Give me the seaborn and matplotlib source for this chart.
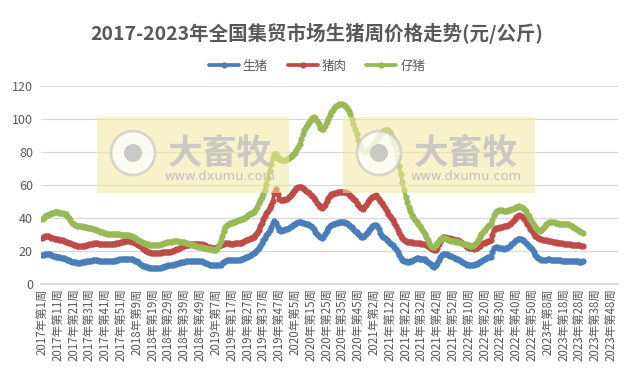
import seaborn as sns
import matplotlib.pyplot as plt
import matplotlib.patches as mpatches
import numpy as np
import pandas as pd

years = [2017, 2018, 2019, 2020, 2021, 2022, 2023]
weeks_in_year = [52, 52, 52, 53, 52, 52, 52]
series_names = ["生猪", "猪肉", "仔猪"]
colors = ["#4A7EBB", "#BE4B48", "#98B954"]

# 生猪 (live hog), weekly
hog_2017 = [17.6, 17.9, 18.2, 18.4, 18.3, 18.0, 17.6, 17.2, 16.9, 16.7,
            16.5, 16.3, 16.1, 15.9, 15.6, 15.3, 14.9, 14.5, 14.1, 13.7,
            13.4, 13.2, 13.1, 13.0, 13.1, 13.3, 13.5, 13.7, 13.9, 14.0,
            14.2, 14.3, 14.4, 14.5, 14.5, 14.4, 14.3, 14.2, 14.1, 14.0,
            13.9, 13.8, 13.8, 13.8, 13.9, 14.0, 14.2, 14.4, 14.7, 15.0, 15.2, 15.4]
hog_2018 = [15.4, 15.5, 15.5, 15.4, 15.2, 15.0, 14.7, 14.3, 13.8, 13.2,
            12.5, 11.8, 11.2, 10.8, 10.4, 10.1, 9.9, 9.8, 9.7, 9.6,
            9.6, 9.6, 9.8, 10.0, 10.3, 10.6, 10.9, 11.1, 11.3, 11.4,
            11.5, 11.7, 12.0, 12.3, 12.6, 12.9, 13.2, 13.4, 13.6, 13.8,
            13.9, 14.0, 14.0, 13.9, 13.9, 13.9, 13.8, 13.8, 13.9, 13.8, 13.5, 13.1]
hog_2019 = [12.6, 12.2, 11.8, 11.5, 11.4, 11.3, 11.3, 11.4, 11.5, 11.8,
            12.6, 13.5, 14.2, 14.5, 14.6, 14.5, 14.4, 14.4, 14.5, 14.6,
            14.7, 14.8, 15.0, 15.3, 15.7, 16.2, 16.6, 17.0, 17.5, 18.0,
            18.6, 19.5, 20.6, 21.8, 23.0, 24.8, 26.6, 28.2, 29.6, 31.0,
            32.6, 34.5, 37.0, 38.5, 37.0, 34.5, 32.6, 32.3, 32.5, 33.0, 33.3, 33.6]
hog_2020 = [34.0, 34.6, 35.3, 36.0, 36.6, 37.0, 37.3, 37.5, 37.4, 37.2,
            37.0, 36.6, 36.1, 35.6, 35.0, 34.4, 33.2, 31.8, 30.4, 29.2,
            28.3, 27.8, 28.6, 30.2, 32.0, 33.8, 35.0, 35.6, 36.1, 36.5,
            36.9, 37.2, 37.5, 37.6, 37.6, 37.5, 37.2, 36.7, 36.0, 35.3,
            34.6, 33.4, 32.3, 31.3, 30.4, 29.6, 28.8, 28.6, 29.4, 30.6, 31.8, 33.0, 34.2]
hog_2021 = [35.2, 35.8, 36.0, 35.0, 33.2, 31.0, 29.2, 28.6, 28.0, 27.0,
            26.0, 25.2, 24.3, 23.4, 22.5, 21.0, 19.3, 17.6, 16.0, 14.8,
            14.2, 13.8, 13.6, 13.5, 13.8, 14.3, 14.9, 15.3, 15.6, 15.6,
            15.5, 15.5, 15.5, 15.0, 14.2, 13.5, 12.8, 12.0, 11.2, 10.6,
            11.5, 13.0, 14.8, 16.5, 17.8, 18.5, 18.4, 18.0, 17.6, 17.2, 16.8, 16.6]
hog_2022 = [16.0, 15.5, 15.0, 14.5, 14.0, 13.4, 12.8, 12.3, 11.9, 11.6,
            11.5, 11.5, 11.7, 12.0, 12.5, 13.0, 13.6, 14.2, 14.8, 15.4,
            15.8, 16.2, 16.4, 16.5, 19.5, 22.0, 22.5, 22.3, 22.0, 21.8,
            21.6, 21.5, 21.6, 21.8, 22.4, 23.2, 24.0, 25.0, 26.0, 26.8,
            27.4, 27.6, 27.4, 26.8, 26.0, 25.2, 24.2, 23.2, 22.3, 21.0, 19.4, 17.8]
hog_2023 = [16.5, 15.6, 15.0, 14.6, 14.5, 14.6, 14.8, 15.0, 15.0, 14.9,
            14.8, 14.7, 14.6, 14.6, 14.5, 14.4, 14.3, 14.3, 14.2, 14.2,
            14.1, 14.1, 14.0, 13.9, 13.9, 13.8, 13.8, 13.7, 13.7, 13.8]

# 猪肉 (pork), weekly
pork_2017 = [28.2, 28.6, 29.0, 29.2, 29.0, 28.6, 28.2, 27.9, 27.6, 27.4,
             27.2, 27.0, 26.8, 26.5, 26.2, 25.8, 25.4, 25.0, 24.6, 24.2,
             23.8, 23.4, 23.1, 22.9, 22.8, 22.8, 23.0, 23.2, 23.5, 23.8,
             24.1, 24.3, 24.5, 24.6, 24.6, 24.6, 24.5, 24.4, 24.3, 24.2,
             24.1, 24.0, 24.0, 24.0, 24.1, 24.2, 24.4, 24.6, 24.9, 25.2, 25.5, 25.8]
pork_2018 = [26.0, 26.2, 26.2, 26.1, 26.0, 25.8, 25.5, 25.0, 24.4, 23.7,
             23.0, 22.2, 21.5, 20.8, 20.2, 19.6, 19.2, 19.0, 18.9, 18.8,
             18.8, 18.9, 19.0, 19.1, 19.2, 19.3, 19.4, 19.5, 19.6, 19.7,
             19.8, 20.1, 20.5, 21.0, 21.5, 22.0, 22.4, 22.8, 23.1, 23.4,
             23.6, 23.8, 24.0, 24.1, 24.2, 24.2, 24.2, 24.2, 24.2, 24.1, 23.8, 23.4]
pork_2019 = [23.0, 22.6, 22.3, 22.0, 21.8, 21.8, 22.0, 22.5, 23.2, 23.8,
             24.3, 24.5, 24.6, 24.6, 24.6, 24.5, 24.5, 24.5, 24.6, 24.6,
             24.7, 24.9, 25.2, 25.6, 26.1, 26.6, 27.0, 27.4, 27.8, 28.2,
             28.6, 29.6, 31.0, 33.0, 35.0, 37.2, 39.4, 41.2, 42.8, 44.5,
             46.2, 48.0, 50.5, 55.0, 57.5, 54.5, 51.8, 50.8, 50.6, 50.8, 51.2, 51.8]
pork_2020 = [52.5, 53.5, 54.8, 56.0, 57.2, 58.2, 58.8, 59.0, 58.8, 58.2,
             57.4, 56.6, 55.8, 55.0, 54.2, 53.2, 52.0, 50.6, 49.2, 47.8,
             46.8, 46.2, 46.6, 48.0, 50.0, 52.0, 53.6, 54.5, 54.8, 55.0,
             55.2, 55.5, 55.8, 56.0, 56.0, 55.8, 55.6, 55.2, 54.4, 53.6,
             52.8, 51.8, 50.6, 49.2, 47.8, 46.6, 45.8, 45.6, 46.4, 47.8, 49.4, 51.0, 52.4]
pork_2021 = [52.8, 53.6, 53.8, 53.0, 51.6, 50.0, 49.0, 47.8, 46.0, 44.2,
             42.6, 41.2, 40.0, 38.7, 37.0, 35.0, 33.0, 31.0, 29.2, 27.8,
             26.8, 26.0, 25.6, 25.4, 25.4, 25.3, 25.2, 25.0, 24.8, 24.6,
             24.6, 24.5, 24.3, 24.0, 23.5, 23.0, 22.4, 21.8, 21.2, 20.8,
             20.6, 22.0, 24.0, 26.0, 27.6, 28.6, 28.5, 28.2, 28.0, 27.8, 27.5, 27.2]
pork_2022 = [27.0, 26.8, 26.6, 26.2, 25.6, 24.8, 24.0, 23.2, 22.5, 22.0,
             21.8, 21.6, 21.5, 21.6, 22.0, 22.6, 23.3, 24.0, 24.6, 25.2,
             25.7, 26.1, 26.4, 26.6, 30.0, 33.0, 33.8, 34.0, 34.2, 34.5,
             34.8, 35.0, 35.2, 35.4, 35.6, 36.2, 37.0, 38.0, 39.2, 40.4,
             41.2, 41.7, 41.5, 40.6, 39.4, 38.0, 36.6, 35.0, 33.4, 32.0, 30.6, 29.4]
pork_2023 = [28.6, 28.0, 27.6, 27.3, 27.0, 26.8, 26.6, 26.4, 26.2, 26.0,
             25.8, 25.6, 25.4, 25.2, 25.0, 24.8, 24.6, 24.4, 24.3, 24.2,
             24.1, 24.0, 23.9, 23.8, 23.7, 23.6, 23.5, 23.4, 23.3, 23.3]

# 仔猪 (piglet), weekly
piglet_2017 = [39.2, 40.2, 41.0, 41.6, 42.0, 42.4, 42.8, 43.2, 43.4, 43.5,
               43.4, 43.2, 43.0, 42.8, 42.6, 42.2, 41.4, 40.0, 38.6, 37.2,
               36.2, 35.6, 35.4, 35.3, 35.2, 35.0, 34.8, 34.6, 34.4, 34.2,
               34.0, 33.8, 33.6, 33.4, 33.0, 32.6, 32.2, 31.8, 31.4, 31.0,
               30.8, 30.6, 30.5, 30.4, 30.4, 30.4, 30.4, 30.3, 30.2, 30.1, 30.0, 30.0]
piglet_2018 = [30.0, 29.9, 29.8, 29.6, 29.4, 29.0, 28.6, 28.0, 27.4, 26.8,
               26.2, 25.6, 25.1, 24.7, 24.4, 24.1, 23.9, 23.7, 23.6, 23.6,
               23.6, 23.7, 23.9, 24.1, 24.4, 24.7, 25.0, 25.3, 25.5, 25.6,
               25.8, 25.9, 26.0, 26.0, 25.9, 25.8, 25.6, 25.5, 25.3, 25.0,
               24.7, 24.4, 24.1, 23.8, 23.5, 23.2, 22.9, 22.6, 22.4, 22.2, 22.0, 21.8]
piglet_2019 = [21.6, 21.4, 21.2, 21.0, 20.8, 20.6, 20.8, 21.8, 23.6, 26.0,
               29.0, 32.0, 34.6, 35.8, 36.4, 36.8, 37.2, 37.5, 37.8, 38.2,
               38.6, 38.9, 39.2, 39.6, 40.0, 40.6, 41.4, 42.2, 42.8, 43.3,
               43.8, 45.0, 46.8, 49.0, 51.0, 52.6, 54.5, 57.0, 60.5, 64.5,
               68.5, 72.5, 76.0, 78.5, 79.0, 77.0, 75.5, 75.0, 74.8, 74.8, 75.0, 75.4]
piglet_2020 = [76.0, 76.8, 77.8, 78.8, 79.5, 81.0, 83.0, 85.0, 87.5, 90.5,
               93.0, 95.0, 96.6, 98.0, 99.2, 100.2, 101.0, 100.6, 98.8, 96.6,
               94.6, 93.6, 94.0, 95.6, 97.8, 100.0, 102.0, 103.8, 105.4, 106.8,
               107.8, 108.4, 108.8, 109.0, 109.0, 108.6, 107.8, 106.8, 105.0, 102.6,
               100.0, 97.0, 94.0, 90.5, 87.0, 84.0, 81.5, 80.4, 80.0, 80.2, 80.8, 81.6, 82.6]
piglet_2021 = [83.8, 85.2, 86.6, 88.0, 89.4, 90.6, 91.6, 92.4, 93.0, 93.2,
               93.0, 92.0, 90.2, 88.0, 85.0, 81.0, 76.5, 71.5, 66.5, 61.5,
               57.0, 53.0, 49.5, 46.5, 44.0, 42.0, 40.4, 39.0, 37.8, 36.6,
               35.4, 34.0, 32.4, 30.6, 28.6, 26.6, 24.8, 23.2, 22.4, 22.6,
               23.6, 25.0, 26.4, 27.4, 28.0, 28.2, 27.8, 27.4, 27.0, 26.6, 26.4, 26.2]
piglet_2022 = [26.0, 25.8, 25.6, 25.5, 25.2, 24.8, 24.4, 24.0, 23.7, 23.5,
               23.3, 23.2, 23.4, 24.2, 25.4, 27.0, 28.8, 30.4, 31.8, 33.0,
               34.0, 35.0, 35.8, 36.6, 39.0, 42.0, 43.6, 44.4, 44.8, 44.8,
               44.6, 44.4, 44.4, 44.4, 44.6, 44.8, 45.2, 45.6, 46.0, 46.4,
               46.8, 47.0, 46.8, 46.2, 45.2, 44.0, 42.6, 41.0, 39.4, 37.6, 36.0, 34.4]
piglet_2023 = [33.2, 32.6, 32.4, 32.8, 33.8, 35.0, 36.2, 37.0, 37.4, 37.6,
               37.6, 37.4, 37.0, 36.8, 36.6, 36.6, 36.6, 36.5, 36.4, 36.3,
               36.2, 36.0, 35.4, 34.6, 33.8, 33.2, 32.6, 32.0, 31.4, 31.0]

hog = hog_2017 + hog_2018 + hog_2019 + hog_2020 + hog_2021 + hog_2022 + hog_2023
pork = pork_2017 + pork_2018 + pork_2019 + pork_2020 + pork_2021 + pork_2022 + pork_2023
piglet = (piglet_2017 + piglet_2018 + piglet_2019 + piglet_2020
          + piglet_2021 + piglet_2022 + piglet_2023)

week_labels = [f"{y}年第{w}周" for y, n in zip(years, weeks_in_year) for w in range(1, n + 1)]
n_cat = len(week_labels)

frames = []
for name, vals in zip(series_names, [hog, pork, piglet]):
    frames.append(pd.DataFrame({"week": np.arange(len(vals)), "price": vals, "kind": name}))
df = pd.concat(frames, ignore_index=True)

sns.set_theme(style="white")
plt.rcParams["font.family"] = ["Noto Sans CJK SC", "DejaVu Sans"]

fig = plt.figure(figsize=(6.34, 3.71), dpi=100)
ax = fig.add_axes([0.065, 0.234, 0.91, 0.535])

sns.lineplot(data=df, x="week", y="price", hue="kind", palette=colors,
             marker="o", markersize=4.5, markeredgewidth=0, linewidth=2.7,
             ax=ax, legend=False)

ax.set_xlim(-0.5, n_cat - 0.5)
ax.set_ylim(0, 120)
ax.set_yticks(range(0, 121, 20))
ax.yaxis.grid(True, color="#D9D9D9", linewidth=0.9)
ax.xaxis.grid(False)
for s in ["left", "right", "top"]:
    ax.spines[s].set_visible(False)
ax.spines["bottom"].set_color("#D9D9D9")
ax.set_xticks(range(0, n_cat, 10))
ax.set_xticklabels(week_labels[::10], rotation=90, fontsize=8.3, color="#595959")
ax.tick_params(axis="y", labelsize=9, colors="#595959", length=0, pad=6)
ax.tick_params(axis="x", length=0, pad=3)
ax.set_xlabel("")
ax.set_ylabel("")

fig.text(0.5, 0.91, "2017-2023年全国集贸市场生猪周价格走势(元/公斤)",
         ha="center", va="center", fontsize=14, fontweight="bold", color="#595959")

handles = [plt.Line2D([], [], color=c, linewidth=2.7, marker="o", markersize=4.5,
                      markeredgewidth=0) for c in colors]
fig.legend(handles, series_names, loc="center", bbox_to_anchor=(0.5, 0.822), ncol=3,
           frameon=False, fontsize=9, handlelength=2.4, columnspacing=1.6,
           handletextpad=0.3, labelcolor="#595959")

# watermarks
for x0 in [97, 343]:
    fig.add_artist(mpatches.Rectangle((x0 / 634, 1 - 193 / 371), 192 / 634, 76 / 371,
                                      transform=fig.transFigure, facecolor="#F2E8A0",
                                      edgecolor="none", alpha=0.55, zorder=5))
    cx, cy = (x0 + 36) / 634, 1 - 153 / 371
    fig.add_artist(mpatches.Ellipse((cx, cy), 44 / 634, 44 / 371, transform=fig.transFigure,
                                    facecolor="white", edgecolor="#C8C8C8", linewidth=2,
                                    alpha=0.7, zorder=6))
    fig.add_artist(mpatches.Ellipse((cx, cy), 18 / 634, 18 / 371, transform=fig.transFigure,
                                    facecolor="#BDBDBD", edgecolor="none", alpha=0.8, zorder=7))
    fig.text((x0 + 123) / 634, 1 - 153 / 371, "大畜牧", ha="center", va="center",
             fontsize=25, fontweight="bold", color="#C2C2C2", alpha=0.85, zorder=8)
    fig.text((x0 + 123) / 634, 1 - 177 / 371, "www.dxumu.com", ha="center",
             va="center", fontsize=9.3, color="#C2C2C2", zorder=8, family=["DejaVu Sans"])

fig.savefig("out.png", dpi=100)
